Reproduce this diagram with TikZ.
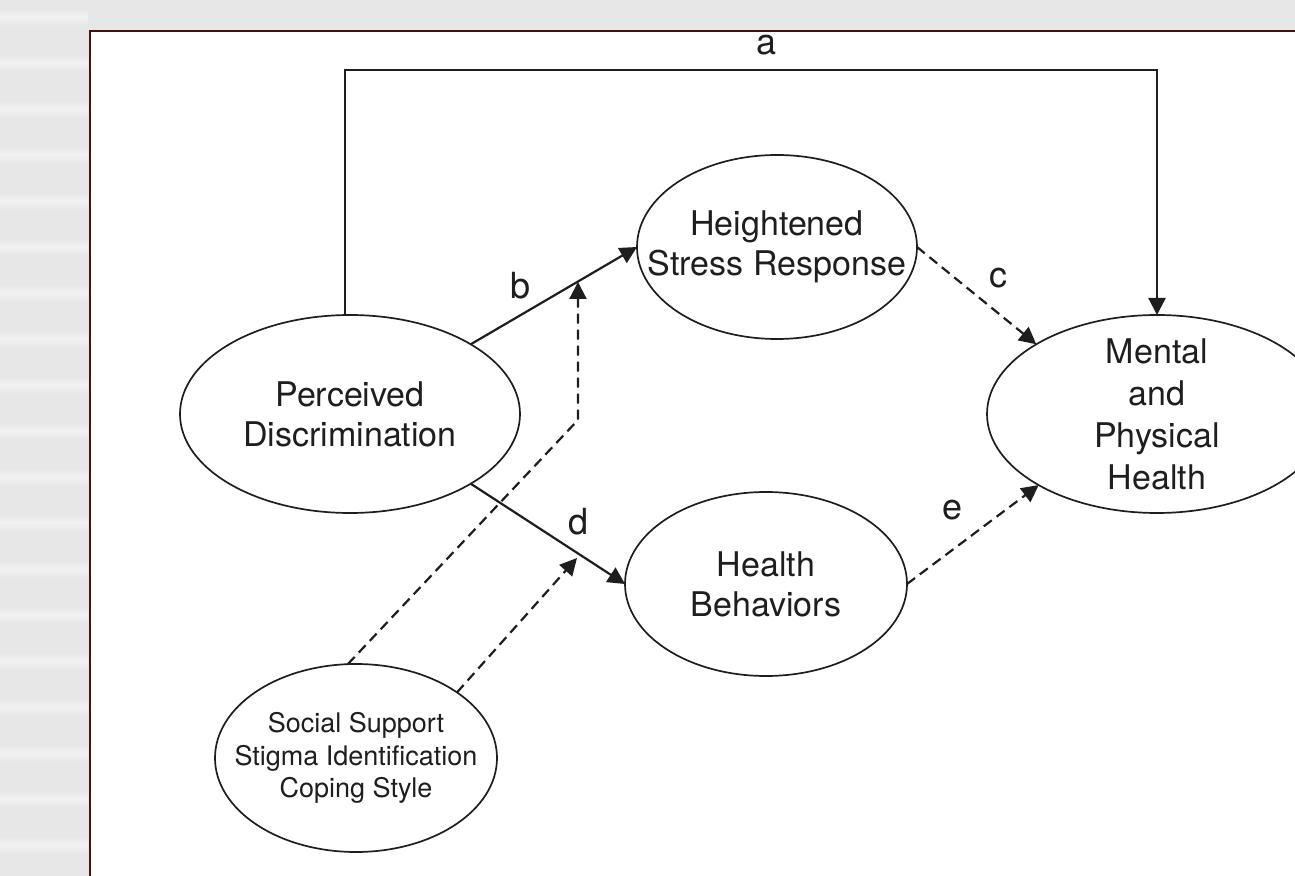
\documentclass[tikz,border=0pt]{standalone}
\usepackage{fontspec}
\setmainfont{TeX Gyre Heros}
\usetikzlibrary{shapes.geometric,arrows.meta}

\definecolor{ink}{HTML}{1E1E1E}
\definecolor{frame}{HTML}{4A0E0E}
\definecolor{slide}{HTML}{E7E7E7}
\definecolor{stripe}{HTML}{F1F1F1}

\begin{document}
\begin{tikzpicture}[x=0.5pt, y=-0.5pt,
	oval/.style={ellipse, draw=ink, line width=0.85pt, inner sep=0pt, outer sep=0pt},
	txt/.style={align=center, text=ink, font=\fontsize{17}{20}\selectfont},
	smalltxt/.style={align=center, text=ink, font=\fontsize{13.5}{16.3}\selectfont},
	lbl/.style={text=ink, font=\fontsize{18}{20}\selectfont},
	arr/.style={draw=ink, line width=1.1pt, -{Triangle[length=8.5pt, width=8.5pt]}},
	darr/.style={arr, dash pattern=on 5pt off 3pt}]
	\useasboundingbox (0,0) rectangle (1295,876);
	\clip (0,0) rectangle (1295,876);

	% slide background and panel
	\fill[slide] (0,0) rectangle (1295,876);
	\foreach \y in {8,54,...,876} {
		\shade[top color=slide, bottom color=stripe] (0,\y) rectangle (88,\y+9);
		\shade[top color=stripe, bottom color=slide] (0,\y+9) rectangle (88,\y+18);
	}
	\draw[frame, line width=1pt, fill=white] (90,31) rectangle (1320,900);

	% the five ellipses
	\node[oval, minimum width=170pt, minimum height=99pt] (pd) at (350,414) {};
	\node[oval, minimum width=140pt, minimum height=92pt] (hsr) at (777,247) {};
	\node[oval, minimum width=141pt, minimum height=92pt] (hb) at (766,584) {};
	\node[oval, minimum width=170pt, minimum height=99pt] (mph) at (1157,414) {};
	\node[oval, minimum width=141pt, minimum height=94pt] (ss) at (356,758) {};

	\node[txt] (pdtxt) at (pd) {Perceived\\Discrimination};
	\node[txt] (hsrtxt) at (hsr) {Heightened\\Stress Response};
	\node[txt] (hbtxt) at (hb) {Health\\Behaviors};
	\node[txt, font=\fontsize{17}{21}\selectfont] (mphtxt) at (mph) {Mental\\and\\Physical\\Health};
	\node[smalltxt] (sstxt) at (ss) {Social Support\\Stigma Identification\\Coping Style};

	% path labels
	\node[lbl] (la) at (766,45) {a};
	\node[lbl] (lb) at (521,286) {b};
	\node[lbl] (lc) at (998,278) {c};
	\node[lbl] (ld) at (578,522) {d};
	\node[lbl] (le) at (952,510) {e};

	\coordinate (atop) at (760,70);
	\coordinate (bend) at (578,420);
	\coordinate (tipb) at (578,282);
	\coordinate (tipd) at (577,558);

	% Draw the paths between the ellipses
	\draw[arr] (pd.93) |- (atop) -| (mph.north);
	\draw[arr] (pd.30) -- (hsr.west);
	\draw[arr] (pd.-30) -- (hb.west);
	\draw[darr] (hsr.east) -- (mph.150);
	\draw[darr] (hb.east) -- (mph.211);
	\draw[darr] (ss.95) -- (bend) -- (tipb);
	\draw[darr] (ss.33) -- (tipd);
\end{tikzpicture}
\end{document}
